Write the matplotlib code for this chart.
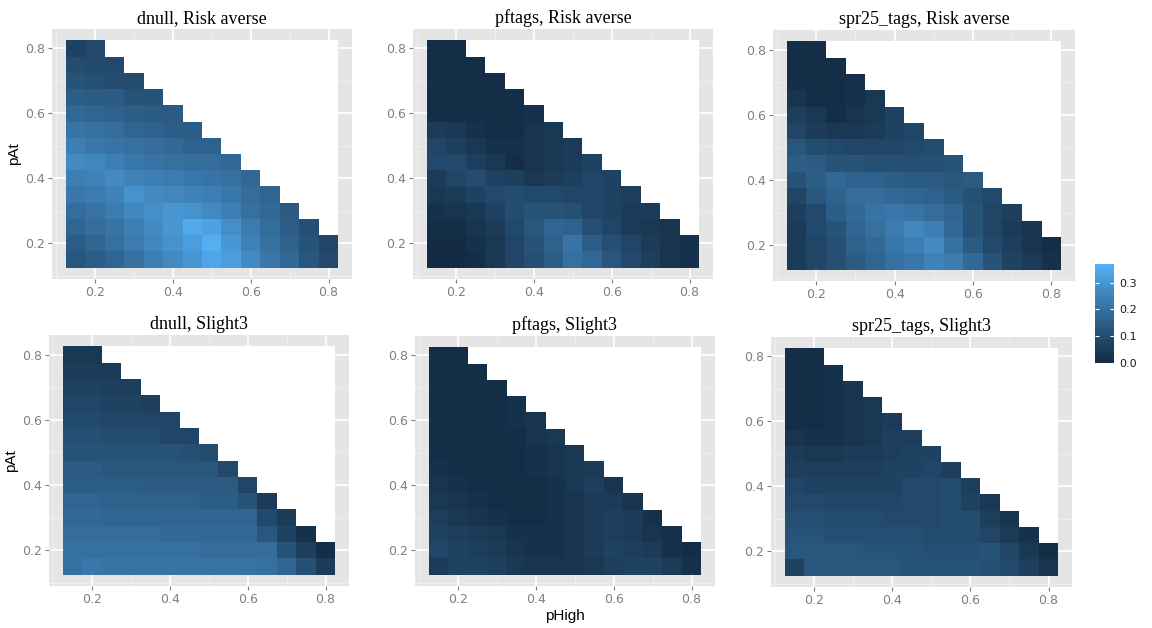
import numpy as np
import matplotlib
matplotlib.use("Agg")
import matplotlib.pyplot as plt
from matplotlib.colors import ListedColormap, Normalize
from matplotlib.cm import ScalarMappable

# grid of parameter values (tile centres)
p_high = [0.15, 0.2, 0.25, 0.3, 0.35, 0.4, 0.45, 0.5, 0.55, 0.6, 0.65, 0.7, 0.75, 0.8]
p_at = [0.15, 0.2, 0.25, 0.3, 0.35, 0.4, 0.45, 0.5, 0.55, 0.6, 0.65, 0.7, 0.75, 0.8]

# each list is one row (pAt from 0.15 up to 0.8), values for pHigh from 0.15 onwards
dnull_risk = [
    [0.13, 0.15, 0.17, 0.20, 0.24, 0.27, 0.30, 0.34, 0.32, 0.27, 0.22, 0.18, 0.13, 0.09],
    [0.15, 0.17, 0.20, 0.23, 0.26, 0.29, 0.32, 0.36, 0.30, 0.25, 0.20, 0.16, 0.12, 0.08],
    [0.17, 0.19, 0.21, 0.24, 0.27, 0.30, 0.35, 0.33, 0.28, 0.23, 0.19, 0.15, 0.11],
    [0.19, 0.21, 0.23, 0.26, 0.28, 0.30, 0.29, 0.27, 0.24, 0.20, 0.18, 0.14],
    [0.22, 0.23, 0.25, 0.29, 0.27, 0.26, 0.25, 0.24, 0.22, 0.19, 0.17],
    [0.24, 0.25, 0.27, 0.25, 0.24, 0.23, 0.22, 0.21, 0.20, 0.18],
    [0.27, 0.26, 0.24, 0.22, 0.21, 0.20, 0.19, 0.19, 0.18],
    [0.24, 0.22, 0.21, 0.20, 0.19, 0.18, 0.16, 0.16],
    [0.21, 0.20, 0.19, 0.17, 0.16, 0.15, 0.15],
    [0.18, 0.17, 0.16, 0.15, 0.14, 0.14],
    [0.15, 0.14, 0.14, 0.12, 0.12],
    [0.12, 0.11, 0.10, 0.10],
    [0.10, 0.09, 0.09],
    [0.07, 0.09],
]
pftags_risk = [
    [0.00, 0.00, 0.01, 0.04, 0.08, 0.11, 0.15, 0.20, 0.18, 0.13, 0.09, 0.06, 0.03, 0.02],
    [0.00, 0.00, 0.02, 0.04, 0.08, 0.12, 0.16, 0.21, 0.15, 0.11, 0.08, 0.05, 0.03, 0.02],
    [0.01, 0.01, 0.03, 0.05, 0.09, 0.13, 0.17, 0.16, 0.11, 0.08, 0.05, 0.04, 0.03],
    [0.02, 0.03, 0.04, 0.07, 0.10, 0.12, 0.12, 0.11, 0.08, 0.07, 0.05, 0.05],
    [0.04, 0.05, 0.07, 0.09, 0.10, 0.09, 0.09, 0.08, 0.08, 0.07, 0.06],
    [0.05, 0.08, 0.10, 0.07, 0.06, 0.04, 0.05, 0.06, 0.08, 0.07],
    [0.09, 0.09, 0.06, 0.04, 0.01, 0.03, 0.04, 0.05, 0.07],
    [0.08, 0.06, 0.04, 0.02, 0.02, 0.03, 0.04, 0.05],
    [0.05, 0.04, 0.02, 0.01, 0.01, 0.03, 0.04],
    [0.01, 0.01, 0.01, 0.01, 0.01, 0.02],
    [0.01, 0.01, 0.01, 0.01, 0.01],
    [0.01, 0.01, 0.01, 0.01],
    [0.01, 0.01, 0.01],
    [0.01, 0.01],
]
spr25_risk = [
    [0.05, 0.08, 0.11, 0.14, 0.17, 0.20, 0.22, 0.25, 0.23, 0.18, 0.12, 0.07, 0.05, 0.02],
    [0.05, 0.08, 0.11, 0.16, 0.18, 0.22, 0.24, 0.27, 0.20, 0.14, 0.09, 0.06, 0.03, 0.01],
    [0.05, 0.09, 0.12, 0.17, 0.20, 0.23, 0.26, 0.24, 0.18, 0.12, 0.08, 0.05, 0.03],
    [0.06, 0.09, 0.15, 0.18, 0.21, 0.22, 0.21, 0.19, 0.17, 0.12, 0.08, 0.06],
    [0.08, 0.13, 0.16, 0.19, 0.19, 0.18, 0.17, 0.16, 0.14, 0.11, 0.09],
    [0.12, 0.15, 0.18, 0.16, 0.16, 0.15, 0.14, 0.14, 0.13, 0.14],
    [0.15, 0.14, 0.12, 0.12, 0.11, 0.11, 0.11, 0.11, 0.12],
    [0.13, 0.10, 0.09, 0.08, 0.08, 0.08, 0.09, 0.10],
    [0.08, 0.05, 0.04, 0.04, 0.05, 0.07, 0.08],
    [0.06, 0.04, 0.01, 0.03, 0.04, 0.07],
    [0.03, 0.01, 0.01, 0.02, 0.04],
    [0.01, 0.01, 0.01, 0.02],
    [0.01, 0.01, 0.01],
    [0.01, 0.01],
]
dnull_slight = [
    [0.20, 0.22, 0.21, 0.21, 0.21, 0.21, 0.21, 0.21, 0.21, 0.21, 0.20, 0.17, 0.11, 0.05],
    [0.20, 0.20, 0.20, 0.20, 0.20, 0.20, 0.20, 0.19, 0.19, 0.19, 0.19, 0.12, 0.06, 0.01],
    [0.19, 0.19, 0.19, 0.19, 0.19, 0.18, 0.18, 0.18, 0.18, 0.18, 0.13, 0.07, 0.02],
    [0.18, 0.18, 0.17, 0.17, 0.17, 0.17, 0.17, 0.17, 0.17, 0.17, 0.09, 0.05],
    [0.17, 0.17, 0.16, 0.16, 0.16, 0.16, 0.16, 0.15, 0.15, 0.12, 0.05],
    [0.15, 0.15, 0.15, 0.15, 0.14, 0.14, 0.14, 0.14, 0.14, 0.08],
    [0.14, 0.14, 0.13, 0.13, 0.13, 0.13, 0.13, 0.13, 0.09],
    [0.12, 0.12, 0.12, 0.12, 0.12, 0.12, 0.11, 0.10],
    [0.11, 0.11, 0.10, 0.10, 0.10, 0.08, 0.08],
    [0.09, 0.09, 0.08, 0.08, 0.08, 0.08],
    [0.08, 0.08, 0.07, 0.07, 0.06],
    [0.07, 0.07, 0.06, 0.06],
    [0.05, 0.05, 0.05],
    [0.04, 0.04],
]
pftags_slight = [
    [0.05, 0.07, 0.07, 0.06, 0.04, 0.03, 0.03, 0.03, 0.04, 0.06, 0.07, 0.07, 0.05, 0.02],
    [0.08, 0.07, 0.06, 0.05, 0.03, 0.02, 0.02, 0.03, 0.05, 0.07, 0.06, 0.05, 0.02, 0.01],
    [0.07, 0.06, 0.05, 0.04, 0.02, 0.02, 0.02, 0.03, 0.05, 0.06, 0.05, 0.03, 0.02],
    [0.06, 0.04, 0.03, 0.02, 0.01, 0.01, 0.02, 0.03, 0.05, 0.06, 0.05, 0.02],
    [0.04, 0.03, 0.02, 0.01, 0.01, 0.01, 0.02, 0.03, 0.05, 0.05, 0.03],
    [0.03, 0.02, 0.01, 0.01, 0.01, 0.01, 0.02, 0.04, 0.06, 0.03],
    [0.02, 0.01, 0.01, 0.01, 0.01, 0.02, 0.03, 0.04, 0.05],
    [0.01, 0.01, 0.01, 0.01, 0.01, 0.02, 0.03, 0.04],
    [0.01, 0.01, 0.01, 0.01, 0.01, 0.03, 0.04],
    [0.01, 0.01, 0.01, 0.01, 0.02, 0.03],
    [0.01, 0.01, 0.01, 0.01, 0.02],
    [0.01, 0.01, 0.01, 0.01],
    [0.01, 0.01, 0.01],
    [0.01, 0.01],
]
spr25_slight = [
    [0.07, 0.13, 0.13, 0.13, 0.13, 0.13, 0.12, 0.12, 0.12, 0.12, 0.11, 0.09, 0.06, 0.03],
    [0.13, 0.13, 0.13, 0.13, 0.12, 0.12, 0.12, 0.11, 0.11, 0.11, 0.12, 0.08, 0.04, 0.01],
    [0.12, 0.12, 0.11, 0.11, 0.11, 0.11, 0.11, 0.10, 0.10, 0.10, 0.08, 0.05, 0.02],
    [0.11, 0.11, 0.10, 0.10, 0.10, 0.09, 0.09, 0.09, 0.10, 0.10, 0.06, 0.03],
    [0.09, 0.09, 0.08, 0.08, 0.08, 0.08, 0.09, 0.09, 0.10, 0.07, 0.04],
    [0.08, 0.07, 0.07, 0.07, 0.07, 0.07, 0.09, 0.09, 0.10, 0.06],
    [0.06, 0.06, 0.06, 0.06, 0.06, 0.07, 0.07, 0.08, 0.06],
    [0.05, 0.04, 0.04, 0.05, 0.05, 0.06, 0.07, 0.07],
    [0.03, 0.02, 0.02, 0.03, 0.04, 0.06, 0.06],
    [0.01, 0.01, 0.02, 0.03, 0.04, 0.05],
    [0.01, 0.01, 0.02, 0.03, 0.04],
    [0.01, 0.01, 0.02, 0.03],
    [0.01, 0.01, 0.02],
    [0.01, 0.01],
]

titles = ["dnull, Risk averse", "pftags, Risk averse", "spr25_tags, Risk averse",
          "dnull, Slight3", "pftags, Slight3", "spr25_tags, Slight3"]
panels = [dnull_risk, pftags_risk, spr25_risk, dnull_slight, pftags_slight, spr25_slight]

VMIN, VMAX = 0.0, 0.37
W, H = 1152, 628
# panel boxes in pixels: left, top, right, bottom
BOXES = [(52, 29, 352, 279), (413, 29, 713, 279), (773, 30, 1075, 281),
         (49, 335, 349, 586), (415, 336, 715, 586), (771, 337, 1072, 587)]


# ggplot-like gradient (interpolated in Lab space)
def srgb_to_lab(rgb):
    c = np.where(rgb > 0.04045, ((rgb + 0.055) / 1.055) ** 2.4, rgb / 12.92)
    m = np.array([[0.4124, 0.3576, 0.1805], [0.2126, 0.7152, 0.0722], [0.0193, 0.1192, 0.9505]])
    xyz = m @ c / np.array([0.95047, 1.0, 1.08883])
    f = np.where(xyz > 0.008856, np.cbrt(xyz), 7.787 * xyz + 16 / 116)
    return np.array([116 * f[1] - 16, 500 * (f[0] - f[1]), 200 * (f[1] - f[2])])


def lab_to_srgb(lab):
    fy = (lab[0] + 16) / 116
    f = np.array([fy + lab[1] / 500, fy, fy - lab[2] / 200])
    xyz = np.where(f > 0.2069, f ** 3, (f - 16 / 116) / 7.787) * np.array([0.95047, 1.0, 1.08883])
    m = np.array([[3.2406, -1.5372, -0.4986], [-0.9689, 1.8758, 0.0415], [0.0557, -0.2040, 1.0570]])
    c = np.clip(m @ xyz, 0, 1)
    return np.clip(np.where(c > 0.0031308, 1.055 * c ** (1 / 2.4) - 0.055, 12.92 * c), 0, 1)


lo = srgb_to_lab(np.array(matplotlib.colors.to_rgb("#132B43")))
hi = srgb_to_lab(np.array(matplotlib.colors.to_rgb("#56B1F7")))
cmap = ListedColormap([lab_to_srgb(lo + t * (hi - lo)) for t in np.linspace(0, 1, 256)])
cmap.set_bad("white")
norm = Normalize(VMIN, VMAX)

fig = plt.figure(figsize=(W / 100, H / 100), dpi=100)
edges = np.arange(0.125, 0.85, 0.05)

for k, (rows, title) in enumerate(zip(panels, titles)):
    l, t, r, b = BOXES[k]
    ax = fig.add_axes([l / W, 1 - b / H, (r - l) / W, (b - t) / H])
    grid = np.full((len(p_at), len(p_high)), np.nan)
    for i, row in enumerate(rows):
        grid[i, :len(row)] = row
    ax.set_facecolor("#E5E5E5")
    ax.set_axisbelow(True)
    ax.grid(True, which="major", color="white", lw=1.2)
    ax.grid(True, which="minor", color="#F2F2F2", lw=0.6)
    ax.pcolormesh(edges, edges, np.ma.masked_invalid(grid), cmap=cmap, norm=norm)
    ax.set_xlim(0.09, 0.86)
    ax.set_ylim(0.09, 0.86)
    ax.set_xticks([0.2, 0.4, 0.6, 0.8])
    ax.set_yticks([0.2, 0.4, 0.6, 0.8])
    ax.set_xticks([0.1, 0.3, 0.5, 0.7], minor=True)
    ax.set_yticks([0.1, 0.3, 0.5, 0.7], minor=True)
    ax.tick_params(which="minor", length=0)
    ax.tick_params(which="major", direction="out", length=3, width=0.8,
                   color="#7F7F7F", labelcolor="#7F7F7F", labelsize=9, pad=2)
    for s in ax.spines.values():
        s.set_visible(False)
    ax.set_title(title, family="Liberation Serif", fontsize=13, pad=4)
    if k in (0, 3):
        ax.set_ylabel("pAt", family="Liberation Sans", fontsize=11, labelpad=3)
    if k == 4:
        ax.set_xlabel("pHigh", family="Liberation Sans", fontsize=11, labelpad=2)

# colour bar
cax = fig.add_axes([1095 / W, 1 - 363 / H, 19 / W, 99 / H])
cb = fig.colorbar(ScalarMappable(norm=norm, cmap=cmap), cax=cax, ticks=[0.0, 0.1, 0.2, 0.3])
cb.outline.set_visible(False)
cb.ax.set_yticklabels(["0.0", "0.1", "0.2", "0.3"])
cb.ax.tick_params(direction="in", length=3, color="white", labelcolor="#1A1A1A",
                  labelsize=8, left=True, right=True, pad=4)

fig.savefig("out.png", dpi=100)
